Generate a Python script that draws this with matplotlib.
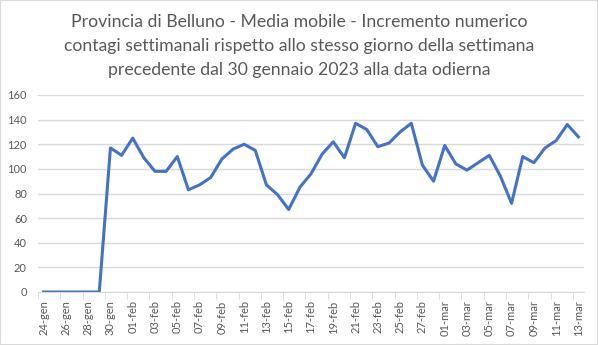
import matplotlib.pyplot as plt
from matplotlib.patches import Rectangle

# dates and values (media mobile incremento contagi)
giorni = ["24-gen", "25-gen", "26-gen", "27-gen", "28-gen", "29-gen", "30-gen", "31-gen"]
giorni += ["%02d-feb" % d for d in range(1, 29)]
giorni += ["%02d-mar" % d for d in range(1, 14)]

valori = [0, 0, 0, 0, 0, 0, 117, 111,
          125, 109, 98, 98, 110, 83, 87, 93, 108, 116, 120, 115, 87, 79,
          67, 85, 96, 112, 122, 109, 137, 132, 118, 121, 130, 137, 103, 90,
          119, 104, 99, 105, 111, 94, 72, 110, 105, 117, 123, 136, 126]

titolo = ("Provincia di Belluno - Media mobile - Incremento numerico\n"
          "contagi settimanali rispetto allo stesso giorno della settimana\n"
          "precedente dal 30 gennaio 2023 alla data odierna")

plt.rcParams['font.family'] = ['Lato', 'DejaVu Sans']

fig = plt.figure(figsize=(5.98, 3.45), dpi=100)
ax = fig.add_axes([38 / 598, 53 / 345, 546 / 598, 197 / 345])

x = list(range(len(valori)))
ax.plot(x, valori, color="#4472c4", linewidth=2.2, solid_joinstyle="round")

ax.set_xlim(-0.5, len(valori) - 0.5)
ax.set_ylim(0, 160)
ax.set_yticks(range(0, 161, 20))
ax.yaxis.grid(True, color="#d9d9d9", linewidth=1)
ax.set_axisbelow(True)
ax.tick_params(axis="y", length=0, labelsize=8, labelcolor="#595959", pad=8)

ax.set_xticks(x[::2])
ax.set_xticklabels(giorni[::2], rotation=90, fontsize=8, color="#595959")
ax.set_xticks([i - 0.5 for i in range(0, len(valori) + 1, 2)], minor=True)
ax.tick_params(axis="x", which="major", length=0, pad=6)
ax.tick_params(axis="x", which="minor", length=5, color="#d9d9d9")

for s in ["top", "right", "left"]:
    ax.spines[s].set_visible(False)
ax.spines["bottom"].set_color("#d9d9d9")

fig.text(0.5, 1 - 46 / 345, titolo, ha="center", va="center", fontsize=12.7,
         color="#595959", linespacing=1.6)

fig.patches.append(Rectangle((0, 0), 1, 1, transform=fig.transFigure,
                             fill=False, edgecolor="#d9d9d9", linewidth=1.5))

fig.savefig("out.png", dpi=100)
